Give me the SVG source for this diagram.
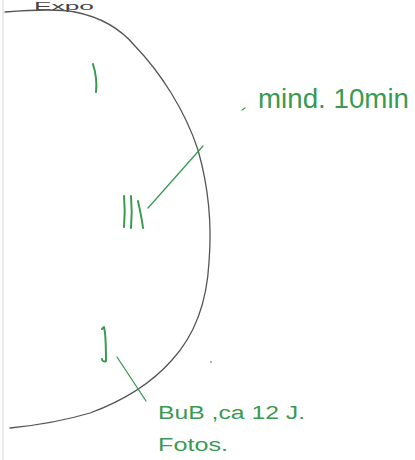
<svg xmlns="http://www.w3.org/2000/svg" width="415" height="460" viewBox="0 0 415 460">
<style>
.ink{fill:none;stroke:#555;stroke-width:1.3;stroke-linecap:round}
.g{fill:none;stroke:#3a9a52;stroke-width:2;stroke-linecap:round;stroke-linejoin:round}
.gl{fill:none;stroke:#3a9a52;stroke-width:1.3;stroke-linecap:round}
.t{font-family:"Liberation Sans",Arial,sans-serif;fill:#3a9a52}
</style>
<rect width="415" height="460" fill="#fff"/>
<line x1="3" y1="0" x2="3" y2="460" stroke="#ddd" stroke-width="1.2"/>
<g id="title">
<text x="34" y="10" font-family="Liberation Sans,Arial,sans-serif" font-size="10" fill="#444" textLength="60" lengthAdjust="spacingAndGlyphs">Expo</text>
</g>
<g id="outline">
<path class="ink" d="M5,12 C30,10 60,9 75,12 C100,17 120,28 135,46 C160,72 185,110 198,150 C208,185 212,225 209,262 C207,300 195,335 172,360 C150,385 120,402 90,413 C60,422 30,426 10,428"/>
</g>
<g id="mark-top">
<path class="g" d="M93,64 C96,74 97,84 96,92"/>
</g>
<g id="mark-mid">
<path class="g" d="M124,196 C125,206 125,216 124,227"/>
<path class="g" d="M131,196 C132,207 132,217 131,228"/>
<path class="g" d="M138,201 C140,211 142,219 143,228"/>
</g>
<g id="mark-bottom">
<path class="g" d="M102,329 L104,327 C106,335 106,348 106,361 C104,362 102,361 102,359"/>
</g>
<g id="label-mind">
<line class="gl" x1="242" y1="110" x2="245" y2="108"/>
<text class="t" x="258" y="108" font-size="27" textLength="151" lengthAdjust="spacingAndGlyphs">mind. 10min</text>
</g>
<g id="label-bub">
<text class="t" x="158" y="419" font-size="18" textLength="147" lengthAdjust="spacingAndGlyphs">BuB ,ca 12 J.</text>
<text class="t" x="158" y="451" font-size="18" textLength="70" lengthAdjust="spacingAndGlyphs">Fotos.</text>
</g>
<g id="connectors">
<line class="gl" x1="148" y1="208" x2="203" y2="146"/>
<line class="gl" x1="117" y1="357" x2="146" y2="401"/>
</g>
<circle cx="211" cy="362" r="1" fill="#999"/>
</svg>
